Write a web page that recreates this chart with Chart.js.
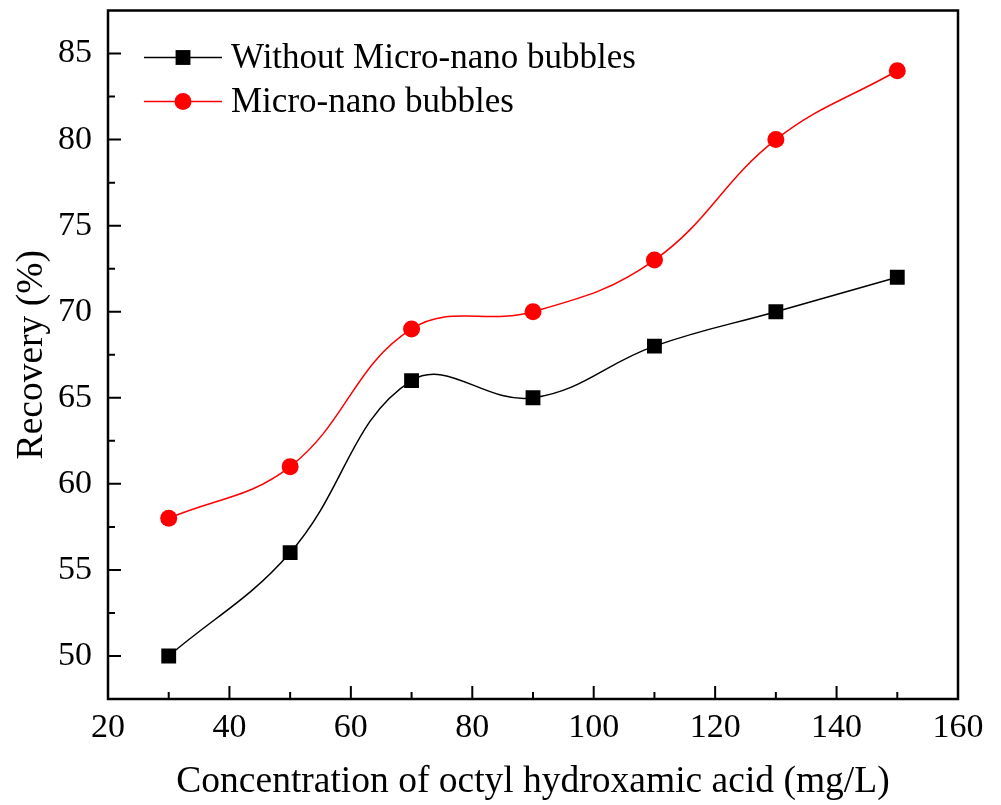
<!DOCTYPE html>
<html>
<head>
<meta charset="utf-8">
<script src="https://cdn.jsdelivr.net/npm/chart.js@4.4.0/dist/chart.umd.min.js"></script>
<style>
  html, body { margin: 0; padding: 0; background: #fff; }
</style>
</head>
<body>
<canvas id="recovery-chart" width="1001" height="805"></canvas>
<script>
const concentrations = [30, 50, 70, 90, 110, 130, 150];
const withoutBubbles = [50, 56, 66, 65, 68, 70, 72];
const withBubbles = [58, 61, 69, 70, 73, 80, 84];
const seriesNames = ['Without Micro-nano bubbles', 'Micro-nano bubbles'];

const xTicks = [20, 40, 60, 80, 100, 120, 140, 160];
const xMinorTicks = [30, 50, 70, 90, 110, 130, 150];
const yTicks = [50, 55, 60, 65, 70, 75, 80, 85];
const yMinorTicks = [52.5, 57.5, 62.5, 67.5, 72.5, 77.5, 82.5];

const serif = 'Liberation Serif';

function toPoints(xs, ys) {
    return xs.map((x, i) => ({ x: x, y: ys[i] }));
}

// box around the plot with inward major/minor ticks on the left and bottom
const frameAndTicks = {
    id: 'frameAndTicks',
    afterDraw(chart) {
        const ctx = chart.ctx;
        const a = chart.chartArea;
        const x = chart.scales.x, y = chart.scales.y;
        ctx.save();
        ctx.strokeStyle = '#000';
        ctx.lineWidth = 2;
        ctx.beginPath();
        xTicks.forEach(v => {
            let px = x.getPixelForValue(v);
            ctx.moveTo(px, a.bottom); ctx.lineTo(px, a.bottom - 13);
        });
        xMinorTicks.forEach(v => {
            let px = x.getPixelForValue(v);
            ctx.moveTo(px, a.bottom); ctx.lineTo(px, a.bottom - 7);
        });
        yTicks.forEach(v => {
            let py = y.getPixelForValue(v);
            ctx.moveTo(a.left, py); ctx.lineTo(a.left + 13, py);
        });
        yMinorTicks.forEach(v => {
            let py = y.getPixelForValue(v);
            ctx.moveTo(a.left, py); ctx.lineTo(a.left + 7, py);
        });
        ctx.stroke();
        ctx.lineWidth = 2.5;
        ctx.strokeRect(a.left, a.top, a.right - a.left, a.bottom - a.top);
        ctx.restore();
    }
};

// legend sitting inside the top-left corner of the plot
const insideLegend = {
    id: 'insideLegend',
    afterDraw(chart) {
        const ctx = chart.ctx;
        const a = chart.chartArea;
        chart.data.datasets.forEach((ds, i) => {
            let cy = a.top + 47 + i * 44;
            let x0 = a.left + 36, x1 = a.left + 114, mx = (x0 + x1) / 2;
            ctx.save();
            ctx.strokeStyle = ds.borderColor;
            ctx.lineWidth = ds.borderWidth;
            ctx.beginPath();
            ctx.moveTo(x0, cy); ctx.lineTo(x1, cy);
            ctx.stroke();
            ctx.fillStyle = ds.backgroundColor;
            Chart.helpers.drawPoint(ctx, {
                pointStyle: ds.pointStyle, radius: ds.pointRadius, rotation: 0, borderWidth: 0
            }, mx, cy);
            ctx.fillStyle = '#000';
            ctx.font = '35px "' + serif + '"';
            ctx.textBaseline = 'middle';
            ctx.textAlign = 'left';
            ctx.fillText(ds.label, a.left + 123, cy + 1);
            ctx.restore();
        });
    }
};

let ctx = document.getElementById('recovery-chart');

let chart = new Chart(ctx, {
    type: 'line',
    data: {
        datasets: [{
            label: seriesNames[0],
            data: toPoints(concentrations, withoutBubbles),
            borderColor: '#000000',
            backgroundColor: '#000000',
            borderWidth: 1.5,
            pointStyle: 'rect',
            pointRadius: 10.5,
            pointBorderWidth: 0,
            tension: 0.4
        }, {
            label: seriesNames[1],
            data: toPoints(concentrations, withBubbles),
            borderColor: '#ff0000',
            backgroundColor: '#ff0000',
            borderWidth: 1.5,
            pointStyle: 'circle',
            pointRadius: 8.5,
            pointBorderWidth: 0,
            tension: 0.4
        }]
    },
    options: {
        responsive: false,
        animation: false,
        devicePixelRatio: 1,
        layout: { padding: { left: 0, top: 10, right: 43, bottom: 0 } },
        plugins: {
            legend: { display: false },
            tooltip: { enabled: false }
        },
        scales: {
            x: {
                type: 'linear',
                min: 20,
                max: 160,
                afterBuildTicks: s => { s.ticks = xTicks.map(v => ({ value: v })); },
                afterFit: s => { s.height = 106; s.paddingLeft = 0; s.paddingRight = 0; },
                grid: { display: false, drawTicks: false, tickLength: 0 },
                border: { display: false },
                ticks: {
                    color: '#000',
                    padding: 9,
                    maxRotation: 0,
                    font: { family: serif, size: 34 }
                },
                title: {
                    display: true,
                    text: 'Concentration of octyl hydroxamic acid (mg/L)',
                    color: '#000',
                    padding: { top: 0, bottom: 0 },
                    font: { family: serif, size: 37.5 }
                }
            },
            y: {
                min: 47.5,
                max: 87.5,
                afterBuildTicks: s => { s.ticks = yTicks.map(v => ({ value: v })); },
                afterFit: s => { s.width = 108; s.paddingTop = 0; s.paddingBottom = 0; },
                grid: { display: false, drawTicks: false, tickLength: 0 },
                border: { display: false },
                ticks: {
                    color: '#000',
                    padding: 16,
                    font: { family: serif, size: 34 }
                },
                title: {
                    display: true,
                    text: 'Recovery (%)',
                    color: '#000',
                    padding: { top: 10, bottom: 0 },
                    font: { family: serif, size: 37.5 }
                }
            }
        }
    },
    plugins: [frameAndTicks, insideLegend]
});
</script>
</body>
</html>
